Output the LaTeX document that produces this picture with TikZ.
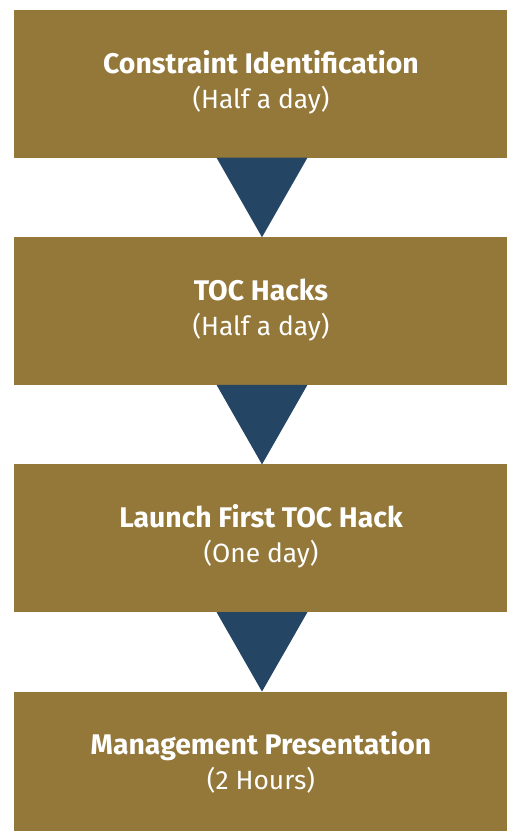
\documentclass[tikz,border=0pt]{standalone}
\usepackage{fontspec}
\setmainfont{Fira Sans}
\newfontfamily\titlefont{Fira Sans Bold}
\definecolor{stepgold}{RGB}{147,120,57}
\definecolor{stepblue}{RGB}{36,70,100}
\begin{document}
\begin{tikzpicture}[x=1pt,y=-1pt,
  stagebox/.style={fill=stepgold,draw=none},
  stagetitle/.style={anchor=base,text=white,font=\titlefont\fontsize{28.4}{32}\selectfont,inner sep=0pt},
  stagenote/.style={anchor=base,text=white,font=\fontsize{26.4}{30}\selectfont,inner sep=0pt},
  pointer/.style={fill=stepblue,draw=none}]
\useasboundingbox (0,0) rectangle (507,831);
% four stage boxes, one every 227pt
\foreach \i/\t/\n in {0/Constraint Identification/(Half a day),
                      1/TOC Hacks/(Half a day),
                      2/Launch First TOC Hack/(One day),
                      3/Management Presentation/(2 Hours)}{
  \pgfmathsetmacro{\top}{10+227.2*\i}
  \fill[stagebox] (14,\top) rectangle (507,\top+147.6);
  \node[stagetitle] (title\i) at (261,\top+63) {\t};
  \node[stagenote] (note\i) at (261,\top+98) {\n};
}
% downward pointers between the boxes
\foreach \i in {0,1,2}{
  \pgfmathsetmacro{\top}{10+227.2*\i+147.6}
  \fill[pointer] (216.5,\top) -- (307.5,\top) -- (262,\top+79.6) -- cycle;
}
\end{tikzpicture}
\end{document}
